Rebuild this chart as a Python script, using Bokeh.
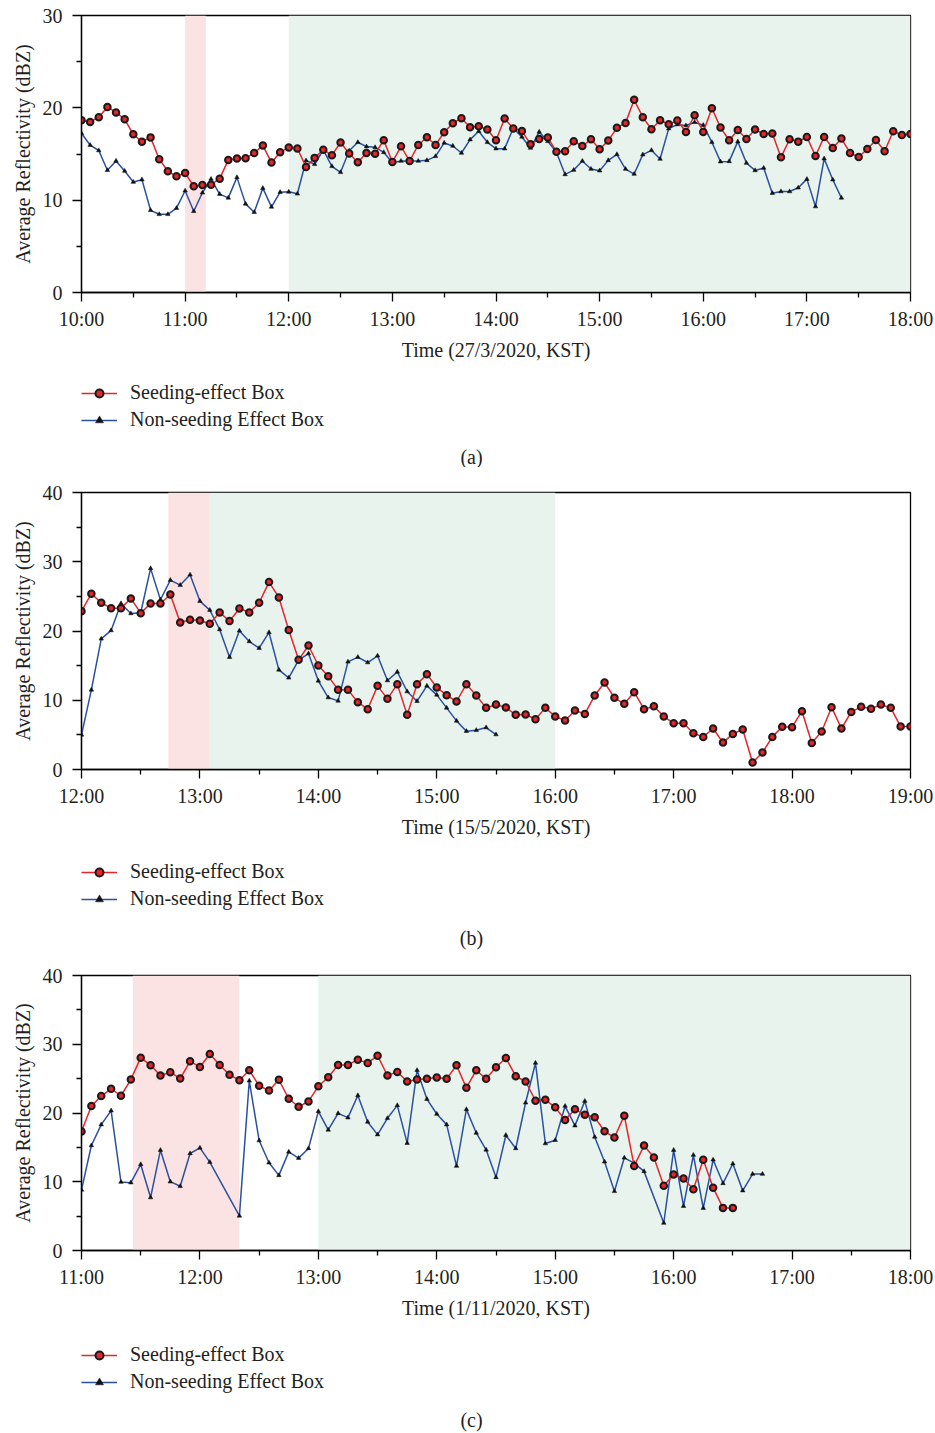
from bokeh.plotting import figure
from bokeh.models import (Range1d, FixedTicker, CustomJSTickFormatter, BoxAnnotation,
                          Legend, LegendItem, Label)
from bokeh.layouts import column
from bokeh.embed import file_html
from bokeh.resources import INLINE

FONT = "Liberation Serif"
TXT = "#231f20"
RED = "#e8242b"
BLUE = "#2a50a0"
PINK = "#fce3e3"
GREEN = "#e8f3ed"

Y_LABEL = "Average Reflectivity (dBZ)"
SERIES_NAMES = ["Seeding-effect Box", "Non-seeding Effect Box"]
STEP_MIN = 5

# ---------------- Panel (a) ----------------
a_start = "10:00"
a_xrange = ("10:00", "18:00")
a_yrange = (0, 30)
a_yticks = [0, 10, 20, 30]
a_yminor = [5, 15, 25]
a_pink = ("11:00", "11:12")
a_green = ("12:00", "18:00")
a_xlabel = "Time (27/3/2020, KST)"
a_caption = "(a)"
a_seed = [18.65, 18.47, 18.98, 20.1, 19.5, 18.76, 17.13, 16.33, 16.8, 14.44, 13.13, 12.58,
          12.95, 11.5, 11.64, 11.67, 12.33, 14.36, 14.5, 14.55, 15.1, 15.93, 14.07, 15.2,
          15.7, 15.6, 13.6, 14.58, 15.45, 14.87, 16.25, 15.05,
          14.1, 15.11, 15.04, 16.49, 14.13, 15.83, 14.24, 15.98, 16.81, 15.98, 17.36, 18.33,
          18.88, 17.9, 18.0, 17.65, 16.49, 18.84, 17.75, 17.5, 16.05, 16.63, 16.78, 15.25,
          15.29, 16.38, 15.87, 16.6, 15.51, 16.45, 17.83,
          18.37, 20.87, 18.99, 17.68, 18.66, 18.22, 18.62, 17.39, 19.2, 17.39, 19.96, 17.86,
          16.49, 17.61, 16.63, 17.65, 17.17, 17.21, 14.64, 16.6, 16.34, 16.85, 14.78, 16.85,
          15.65, 16.67, 15.11, 14.67, 15.54, 16.52, 15.29, 17.46, 17.07, 17.17]
a_nonseed = [17.24, 15.96, 15.38, 13.24, 14.25, 13.16, 11.96, 12.22, 8.9, 8.47, 8.47, 9.13,
             11.02, 8.8, 10.8, 12.29, 10.65, 10.25, 12.47, 9.6, 8.69, 11.3, 9.27, 10.87,
             10.9, 10.69, 14.29, 13.89, 15.45, 13.67, 13.02, 15.35,
             16.27, 15.8, 15.72, 15.18, 14.06, 14.24, 14.24, 14.24, 14.31, 14.75, 16.2, 15.87,
             15.11, 16.56, 17.46, 16.27, 15.58, 15.58, 17.79, 16.85, 15.65, 17.39, 16.38, 15.18,
             12.79, 13.26, 14.24, 13.37, 13.19, 14.31, 14.96,
             13.37, 12.83, 14.93, 15.4, 14.46, 17.75, 18.19, 18.08, 18.44, 18.12, 16.27, 14.17,
             14.2, 16.34, 14.02, 13.22, 13.48, 10.76, 10.94, 10.94, 11.34, 12.28, 9.31, 14.5,
             12.21, 10.25]

# ---------------- Panel (b) ----------------
b_start = "12:00"
b_xrange = ("12:00", "19:00")
b_yrange = (0, 40)
b_yticks = [0, 10, 20, 30, 40]
b_yminor = [5, 15, 25, 35]
b_pink = ("12:44", "13:05")
b_green = ("13:05", "16:00")
b_xlabel = "Time (15/5/2020, KST)"
b_caption = "(b)"
b_seed = [22.87, 25.38, 24.08, 23.3, 23.3, 24.7, 22.58, 23.98, 23.98, 25.28, 21.23, 21.62,
          21.52, 21.04, 22.68, 21.43, 23.26, 22.68, 24.08, 27.06, 24.85, 20.13, 15.84, 17.91,
          15.02, 13.48, 11.5, 11.5,
          9.72, 8.71, 12.08, 10.2, 12.32, 7.89, 12.32, 13.77, 11.84, 10.73, 9.82, 12.32,
          10.68, 8.9, 9.38, 8.95, 7.89, 7.94, 7.26, 8.9, 7.65, 7.07, 8.52, 8.03, 10.68, 12.56,
          10.35, 9.48, 11.17,
          8.71, 9.14, 7.65, 6.69, 6.69, 5.24, 4.71, 5.92, 3.89, 5.14, 5.77, 1.0, 2.45, 4.71,
          6.16, 6.11, 8.42, 3.84, 5.48, 9.0, 5.92, 8.32, 9.05, 8.76, 9.38, 8.9, 6.2, 6.2]
b_nonseed = [5.0, 11.5, 18.87, 20.08, 23.98, 22.53, 22.63, 29.04, 24.51, 27.35, 26.63, 28.12,
             24.32, 23.02, 20.22, 16.22, 20.03, 18.49, 17.52, 19.79, 14.39, 13.24, 15.79, 16.75,
             12.8, 10.39, 9.91, 15.55, 16.22,
             15.45, 16.42, 12.85, 14.1, 11.26, 9.86, 12.08, 10.78, 8.9, 7.02, 5.53, 5.67, 6.06,
             5.05]

# ---------------- Panel (c) ----------------
c_start = "11:00"
c_xrange = ("11:00", "18:00")
c_yrange = (0, 40)
c_yticks = [0, 10, 20, 30, 40]
c_yminor = [5, 15, 25, 35]
c_pink = ("11:26", "12:20")
c_green = ("13:00", "18:00")
c_xlabel = "Time (1/11/2020, KST)"
c_caption = "(c)"
c_seed = [17.3, 21.01, 22.46, 23.52, 22.51, 24.87, 28.05, 26.94, 25.45, 25.93, 25.01, 27.52,
          26.7, 28.58, 26.99, 25.55, 24.77, 26.22, 23.95, 23.28, 24.82, 22.07, 20.91, 21.69,
          23.9, 25.21, 26.99, 26.99,
          27.76, 27.28, 28.34, 25.45, 25.98, 24.58, 24.87, 24.97, 25.16, 24.97, 26.94, 23.66,
          26.22, 24.97, 26.65, 28.01, 25.35, 24.58, 21.78, 21.93, 20.82, 18.98, 20.53, 19.76,
          19.37, 17.34, 16.43, 19.61,
          12.28, 15.27, 13.53, 9.43, 11.07, 10.49, 8.9, 13.19, 9.14, 6.2, 6.2]
c_nonseed = [8.81, 15.27, 18.31, 20.34, 9.96, 9.87, 12.52, 7.7, 14.59, 10.01, 9.34, 14.11,
             14.93, 12.86, None, None, 5.04, 24.68, 15.99, 12.76, 10.93, 14.35, 13.44, 14.84,
             20.24, 17.54, 19.95, 19.32, 22.55,
             18.7, 16.86, 19.23, 21.11, 15.61, 26.22, 22.02, 19.85, 18.31, 12.28, 20.53, 17.1,
             14.64, 10.64, 16.77, 14.84, 21.49, 27.28, 15.56, 16.04, 21.01, 18.16, 21.73, 16.52,
             12.91, 8.61, 13.48, 12.7, 11.51,
             None, 4.0, 14.6, 6.45, 13.88, 6.16, 13.19, 9.77, 12.62, 8.71, 11.12, 11.12]


def hours(s):
    h, m = s.split(":")
    return int(h) + int(m) / 60.0


def series_xy(start, vals):
    t0 = hours(start)
    xs, ys = [], []
    for i, v in enumerate(vals):
        if v is None:
            continue
        xs.append(t0 + i * STEP_MIN / 60.0)
        ys.append(v)
    return xs, ys


def style_axis(ax):
    ax.axis_line_color = "black"
    ax.axis_line_width = 1.3
    ax.major_tick_line_color = "black"
    ax.major_tick_line_width = 1.3
    ax.minor_tick_line_color = "black"
    ax.minor_tick_line_width = 1.3
    ax.major_tick_in = 0
    ax.major_tick_out = 9
    ax.minor_tick_in = 0
    ax.minor_tick_out = 5
    ax.major_label_text_font = FONT
    ax.major_label_text_font_size = "20px"
    ax.major_label_text_color = TXT
    ax.axis_label_text_font = FONT
    ax.axis_label_text_font_size = "20px"
    ax.axis_label_text_font_style = "normal"
    ax.axis_label_text_color = TXT


def red_glyphs(p, xs, ys):
    rl = p.line(xs, ys, line_color=RED, line_width=1.5)
    rp = p.scatter(xs, ys, marker="circle", size=6.5, fill_color=RED,
                   line_color="#1a1a1a", line_width=2)
    return rl, rp


def blue_glyphs(p, xs, ys):
    bl = p.line(xs, ys, line_color=BLUE, line_width=1.5)
    bp = p.scatter(xs, ys, marker="triangle", size=4.5, fill_color="#111111",
                   line_color="#111111", line_width=0.5)
    return bl, bp


def make_main(start, seed, nonseed, xr, yr, yticks, yminor, pink, green, xlabel,
              border_top, frame_h, border_bottom):
    x0, x1 = hours(xr[0]), hours(xr[1])
    p = figure(width=935, height=border_top + frame_h + border_bottom,
               output_backend="svg", toolbar_location=None,
               x_range=Range1d(x0, x1), y_range=Range1d(*yr),
               min_border_left=81, min_border_right=25,
               min_border_top=border_top, min_border_bottom=border_bottom)
    p.grid.visible = False
    p.outline_line_color = "black"
    p.outline_line_width = 1.3
    p.background_fill_color = "white"

    p.add_layout(BoxAnnotation(left=hours(green[0]), right=hours(green[1]),
                               fill_color=GREEN, fill_alpha=1, line_color=None,
                               level="underlay"))
    p.add_layout(BoxAnnotation(left=hours(pink[0]), right=hours(pink[1]),
                               fill_color=PINK, fill_alpha=1, line_color=None,
                               level="underlay"))

    sx, sy = series_xy(start, seed)
    nx, ny = series_xy(start, nonseed)
    blue_glyphs(p, nx, ny)
    red_glyphs(p, sx, sy)

    hrs = list(range(int(x0), int(x1) + 1))
    p.xaxis.ticker = FixedTicker(ticks=hrs, minor_ticks=[h + 0.5 for h in hrs[:-1]])
    p.xaxis.formatter = CustomJSTickFormatter(code="return Math.round(tick) + ':00';")
    p.xaxis.major_label_standoff = 6
    p.xaxis.axis_label = xlabel
    p.xaxis.axis_label_standoff = 6
    p.yaxis.ticker = FixedTicker(ticks=yticks, minor_ticks=yminor)
    p.yaxis.major_label_standoff = 10
    p.yaxis.axis_label = Y_LABEL
    p.yaxis.axis_label_standoff = 6
    style_axis(p.xaxis[0])
    style_axis(p.yaxis[0])
    return p


def make_key(start, seed, nonseed, caption, height, legend_bottom, caption_y):
    # legend + caption strip below each chart; its renderers carry the series data,
    # which lies outside this strip's (0, 1) ranges, so only the legend shows them.
    # The column aligns this strip's frame with the chart frame above (left edge 81px).
    k = figure(width=935, height=height, output_backend="svg", toolbar_location=None,
               x_axis_type=None, y_axis_type=None,
               min_border_left=0, min_border_right=0, min_border_top=0, min_border_bottom=0,
               x_range=Range1d(0, 1), y_range=Range1d(0, 1))
    k.grid.visible = False
    k.outline_line_color = None
    k.background_fill_color = "white"
    sx, sy = series_xy(start, seed)
    nx, ny = series_xy(start, nonseed)
    rl, rp = red_glyphs(k, sx, sy)
    bl, bp = blue_glyphs(k, nx, ny)
    leg = Legend(items=[LegendItem(label=SERIES_NAMES[0], renderers=[rl, rp]),
                        LegendItem(label=SERIES_NAMES[1], renderers=[bl, bp])],
                 location=(0, legend_bottom), orientation="vertical",
                 background_fill_alpha=0, border_line_color=None,
                 padding=0, margin=0, spacing=4, glyph_width=36, glyph_height=20,
                 label_standoff=13, label_height=20,
                 label_text_font=FONT, label_text_font_size="20px",
                 label_text_color=TXT)
    k.add_layout(leg)
    k.add_layout(Label(x=390, y=caption_y, x_units="screen", y_units="screen",
                       text=caption, text_align="center", text_baseline="middle",
                       text_font=FONT, text_font_size="20px", text_color=TXT))
    return k


pa = make_main(a_start, a_seed, a_nonseed, a_xrange, a_yrange, a_yticks, a_yminor,
               a_pink, a_green, a_xlabel, border_top=15, frame_h=277, border_bottom=72)
ka = make_key(a_start, a_seed, a_nonseed, a_caption, height=103, legend_bottom=36,
              caption_y=11)
pb = make_main(b_start, b_seed, b_nonseed, b_xrange, b_yrange, b_yticks, b_yminor,
               b_pink, b_green, b_xlabel, border_top=25, frame_h=277, border_bottom=72)
kb = make_key(b_start, b_seed, b_nonseed, b_caption, height=109, legend_bottom=40,
              caption_y=13)
pc = make_main(c_start, c_seed, c_nonseed, c_xrange, c_yrange, c_yticks, c_yminor,
               c_pink, c_green, c_xlabel, border_top=25, frame_h=275, border_bottom=72)
kc = make_key(c_start, c_seed, c_nonseed, c_caption, height=111, legend_bottom=40,
              caption_y=14)

layout = column(pa, ka, pb, kb, pc, kc, spacing=0)
open("out.html", "w").write(file_html(layout, INLINE))
